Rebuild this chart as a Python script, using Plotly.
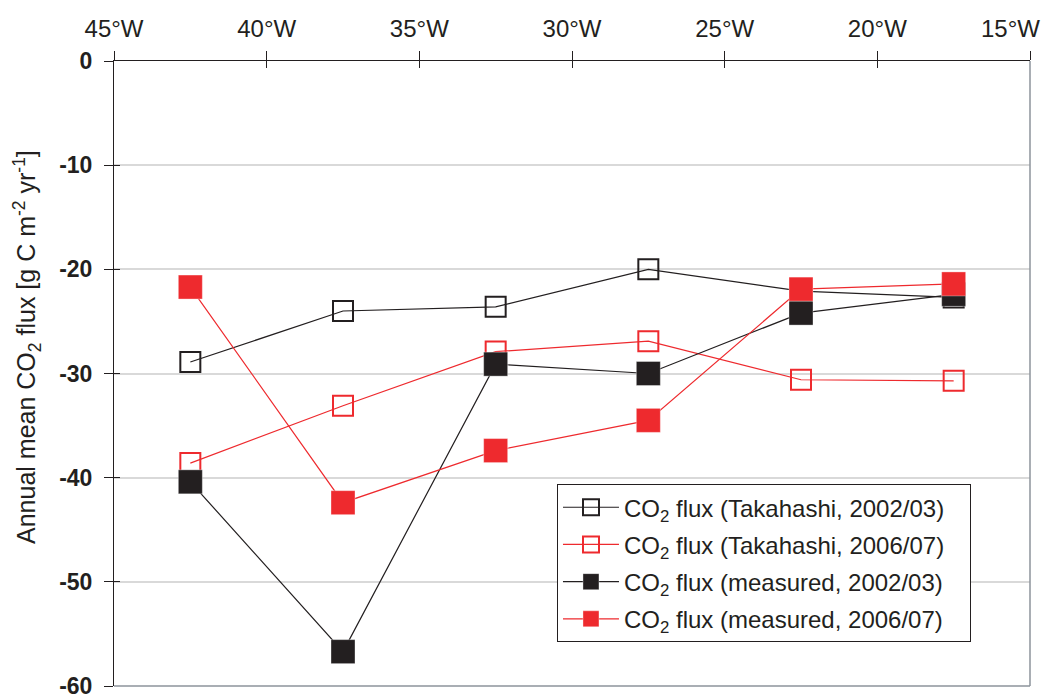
import plotly.graph_objects as go

# Longitude of each station block (degrees, west negative)
lon = [-42.5, -37.5, -32.5, -27.5, -22.5, -17.5]

# Annual mean CO2 flux, g C m-2 yr-1
takahashi_0203 = [-28.9, -24.0, -23.6, -20.0, -22.1, -22.7]
takahashi_0607 = [-38.6, -33.1, -27.9, -26.9, -30.6, -30.7]
measured_0203 = [-40.4, -56.7, -29.1, -30.0, -24.2, -22.4]
measured_0607 = [-21.7, -42.4, -37.4, -34.5, -21.9, -21.4]

x_ticks = [-45, -40, -35, -30, -25, -20, -15]
x_ticklabels = ["45°W", "40°W", "35°W", "30°W", "25°W", "20°W", "15°W"]
y_ticks = [0, -10, -20, -30, -40, -50, -60]
y_ticklabels = ["<b>0</b>", "<b>-10</b>", "<b>-20</b>", "<b>-30</b>",
                "<b>-40</b>", "<b>-50</b>", "<b>-60</b>"]
y_title = "Annual mean CO<sub>2</sub> flux [g C m<sup>-2</sup> yr<sup>-1</sup>]"

BLACK = "#231F20"
RED = "#EE2A2E"
FONT = "Liberation Sans, Arial, sans-serif"

fig = go.Figure()

series = [
    ("CO<sub>2</sub> flux (Takahashi, 2002/03)", takahashi_0203, BLACK, "square-open", 20),
    ("CO<sub>2</sub> flux (Takahashi, 2006/07)", takahashi_0607, RED, "square-open", 20),
    ("CO<sub>2</sub> flux (measured, 2002/03)", measured_0203, BLACK, "square", 24),
    ("CO<sub>2</sub> flux (measured, 2006/07)", measured_0607, RED, "square", 24),
]

for i, (name, vals, color, symbol, size) in enumerate(series):
    if symbol == "square-open":
        marker = dict(symbol=symbol, size=size, color=color, line=dict(width=2, color=color))
    else:
        marker = dict(symbol=symbol, size=size, color=color,
                      line=dict(width=1, color="rgba(255,255,255,0.35)"))
    fig.add_trace(go.Scatter(
        x=lon, y=vals, name=name + "\u00a0\u00a0\u00a0", mode="lines+markers",
        legendgroup=f"g{i}",
        line=dict(color=color, width=1.2), marker=marker,
    ))

# Helper trace that anchors the overlay axes carrying the inner tick marks
fig.add_trace(go.Scatter(x=[None], y=[None], xaxis="x2", yaxis="y2",
                         showlegend=False, hoverinfo="skip"))

# The rightmost longitude label is placed separately so it stays inside the page
last_label = x_ticklabels[-1]
tick_text_shown = x_ticklabels[:-1] + [""]

fig.update_layout(
    width=1045, height=699,
    margin=dict(l=114, r=15, t=61, b=13, autoexpand=False),
    paper_bgcolor="white", plot_bgcolor="white",
    font=dict(family=FONT, size=24, color=BLACK),
    showlegend=True,
    xaxis=dict(
        range=[-45, -15], side="top", tickvals=x_ticks, ticktext=tick_text_shown,
        ticks="outside", ticklen=9, tickwidth=1, tickcolor=BLACK,
        showline=True, linecolor=BLACK, linewidth=1, showgrid=False, zeroline=False,
        tickfont=dict(size=24, color=BLACK), ticklabelstandoff=4,
        ticklabeloverflow="allow", automargin=False,
    ),
    xaxis2=dict(
        range=[-45, -15], overlaying="x", side="top", anchor="y2", tickvals=x_ticks,
        ticks="inside", ticklen=7, tickwidth=1, tickcolor=BLACK,
        showticklabels=False, showline=False, showgrid=False, zeroline=False,
        automargin=False,
    ),
    yaxis=dict(
        range=[-60, 0], tickvals=y_ticks, ticktext=y_ticklabels,
        ticks="outside", ticklen=9, tickwidth=1, tickcolor=BLACK,
        showline=True, linecolor=BLACK, linewidth=1,
        showgrid=True, gridcolor="#D9D9D9", gridwidth=1.5, zeroline=False,
        tickfont=dict(size=23, color=BLACK), ticklabelstandoff=7,
        ticklabeloverflow="allow", automargin=False,
    ),
    yaxis2=dict(
        range=[-60, 0], overlaying="y", anchor="x2", tickvals=y_ticks,
        ticks="inside", ticklen=6, tickwidth=1, tickcolor=BLACK,
        showticklabels=False, showline=False, showgrid=False, zeroline=False,
        automargin=False,
    ),
    legend=dict(
        x=0.4836, y=0.323, xanchor="left", yanchor="top",
        bgcolor="white", bordercolor=BLACK, borderwidth=1,
        font=dict(size=24, color=BLACK), itemwidth=56, tracegroupgap=3,
    ),
    annotations=[
        dict(text=y_title, textangle=-90, xref="paper", yref="paper",
             x=-0.095, y=0.5424, xanchor="center", yanchor="middle",
             showarrow=False, font=dict(size=25, color=BLACK)),
        dict(text=last_label, xref="x", yref="paper", x=x_ticks[-1], y=1,
             xanchor="right", yanchor="middle", xshift=12, yshift=33,
             showarrow=False, font=dict(size=24, color=BLACK)),
    ],
    shapes=[
        dict(type="line", xref="paper", yref="paper", x0=0, x1=1, y0=0, y1=0,
             line=dict(color="#8C939B", width=1.5)),
        dict(type="line", xref="paper", yref="paper", x0=1, x1=1, y0=0, y1=1,
             line=dict(color="#8C939B", width=1.5)),
    ],
)

fig.write_html("out.html")
